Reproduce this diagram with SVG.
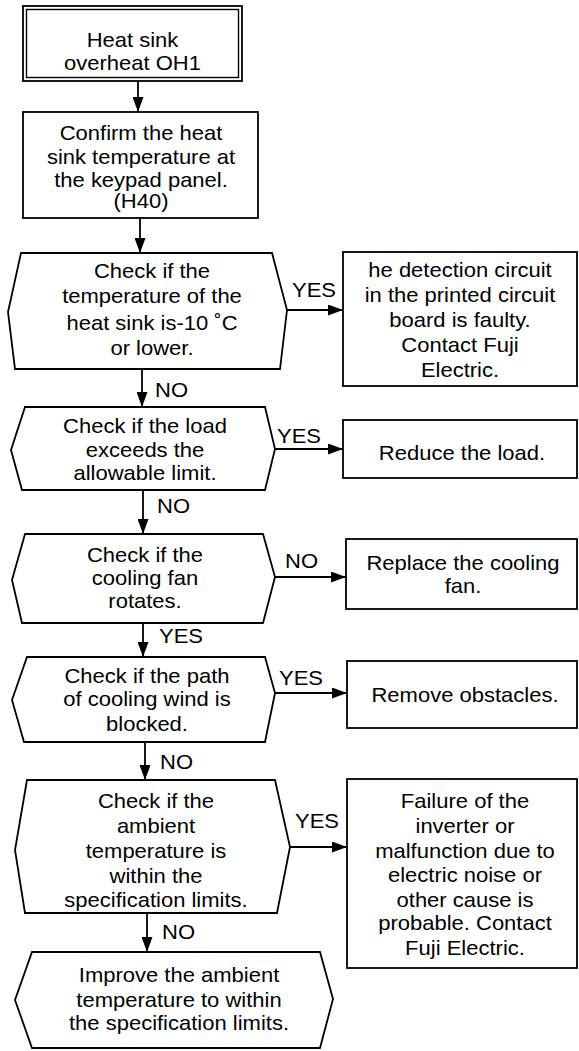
<svg xmlns="http://www.w3.org/2000/svg" width="579" height="1051" viewBox="0 0 579 1051">
<defs>
<style>
.shape{fill:#fff;stroke:#000;stroke-width:1.8;stroke-linejoin:miter}
.thin{fill:none;stroke:#000;stroke-width:1.4}
.conn{fill:none;stroke:#000;stroke-width:1.8}
text{font-family:"Liberation Sans",Arial,sans-serif;font-size:20px;fill:#000}
.c{text-anchor:middle}
</style>
<marker id="ah" markerUnits="userSpaceOnUse" markerWidth="15" markerHeight="11" refX="15" refY="5.5" orient="auto">
<path d="M0,0 L15,5.5 L0,11 z" fill="#000"/>
</marker>
</defs>
<rect width="579" height="1051" fill="#fff"/>

<g id="connectors">
<line class="conn" x1="138" y1="81" x2="138" y2="112" marker-end="url(#ah)"/>
<line class="conn" x1="140" y1="218" x2="140" y2="253" marker-end="url(#ah)"/>
<line class="conn" x1="142" y1="369" x2="142" y2="407" marker-end="url(#ah)"/>
<line class="conn" x1="143" y1="490" x2="143" y2="534" marker-end="url(#ah)"/>
<line class="conn" x1="143" y1="623" x2="143" y2="657" marker-end="url(#ah)"/>
<line class="conn" x1="145" y1="742" x2="145" y2="780" marker-end="url(#ah)"/>
<line class="conn" x1="147" y1="913" x2="147" y2="952" marker-end="url(#ah)"/>
<line class="conn" x1="287" y1="310" x2="343" y2="310" marker-end="url(#ah)"/>
<line class="conn" x1="275" y1="449" x2="343" y2="449" marker-end="url(#ah)"/>
<line class="conn" x1="275" y1="577" x2="346" y2="577" marker-end="url(#ah)"/>
<line class="conn" x1="275" y1="693" x2="347" y2="693" marker-end="url(#ah)"/>
<line class="conn" x1="290" y1="847" x2="347" y2="847" marker-end="url(#ah)"/>
<text transform="translate(155,0) scale(1.1,1)" x="0" y="397">NO</text>
<text transform="translate(157,0) scale(1.1,1)" x="0" y="513">NO</text>
<text transform="translate(159,0) scale(1.1,1)" x="0" y="643">YES</text>
<text transform="translate(160,0) scale(1.1,1)" x="0" y="769">NO</text>
<text transform="translate(162,0) scale(1.1,1)" x="0" y="939">NO</text>
<text transform="translate(292,0) scale(1.1,1)" x="0" y="297">YES</text>
<text transform="translate(277,0) scale(1.1,1)" x="0" y="443">YES</text>
<text transform="translate(285,0) scale(1.1,1)" x="0" y="568">NO</text>
<text transform="translate(279,0) scale(1.1,1)" x="0" y="685">YES</text>
<text transform="translate(295,0) scale(1.1,1)" x="0" y="828">YES</text>
</g>

<g id="start">
<rect class="shape" x="23" y="6" width="219" height="75"/>
<rect class="thin" x="26.5" y="9.5" width="212" height="68"/>
<text class="c" transform="translate(132.5,0) scale(1.1,1)"><tspan x="0" y="47">Heat sink</tspan><tspan x="0" y="70">overheat OH1</tspan></text>
</g>

<g id="confirm">
<rect class="shape" x="23" y="112" width="235" height="106"/>
<text class="c" transform="translate(141,0) scale(1.1,1)"><tspan x="0" y="140">Confirm the heat</tspan><tspan x="0" y="164">sink temperature at</tspan><tspan x="0" y="187">the keypad panel.</tspan><tspan x="0" y="208">(H40)</tspan></text>
</g>

<g id="d1">
<polygon class="shape" points="21,253 272,253 287,310 280,369 15,369 8,312"/>
<text class="c" transform="translate(152,0) scale(1.1,1)"><tspan x="0" y="278">Check if the</tspan><tspan x="0" y="303">temperature of the</tspan><tspan x="0" y="330">heat sink is-10 ˚C</tspan><tspan x="0" y="355">or lower.</tspan></text>
</g>

<g id="r1">
<rect class="shape" x="343" y="252" width="234" height="134"/>
<text class="c" transform="translate(460,0) scale(1.1,1)"><tspan x="0" y="277">he detection circuit</tspan><tspan x="0" y="302">in the printed circuit</tspan><tspan x="0" y="327">board is faulty.</tspan><tspan x="0" y="352">Contact Fuji</tspan><tspan x="0" y="377">Electric.</tspan></text>
</g>

<g id="d2">
<polygon class="shape" points="25,407 265,407 275,449 265,490 22,490 11,450"/>
<text class="c" transform="translate(145,0) scale(1.1,1)"><tspan x="0" y="433">Check if the load</tspan><tspan x="0" y="457">exceeds the</tspan><tspan x="0" y="480">allowable limit.</tspan></text>
</g>

<g id="r2">
<rect class="shape" x="343" y="420" width="234" height="58"/>
<text class="c" transform="translate(462,0) scale(1.1,1)"><tspan x="0" y="460">Reduce the load.</tspan></text>
</g>

<g id="d3">
<polygon class="shape" points="25,534 263,534 275,577 263,623 22,623 12,580"/>
<text class="c" transform="translate(145,0) scale(1.1,1)"><tspan x="0" y="562">Check if the</tspan><tspan x="0" y="585">cooling fan</tspan><tspan x="0" y="608">rotates.</tspan></text>
</g>

<g id="r3">
<rect class="shape" x="346" y="539" width="231" height="70"/>
<text class="c" transform="translate(463,0) scale(1.1,1)"><tspan x="0" y="570">Replace the cooling</tspan><tspan x="0" y="593">fan.</tspan></text>
</g>

<g id="d4">
<polygon class="shape" points="27,657 265,657 275,693 265,742 24,742 12,700"/>
<text class="c" transform="translate(147,0) scale(1.1,1)"><tspan x="0" y="683">Check if the path</tspan><tspan x="0" y="706">of cooling wind is</tspan><tspan x="0" y="731">blocked.</tspan></text>
</g>

<g id="r4">
<rect class="shape" x="347" y="661" width="230" height="67"/>
<text class="c" transform="translate(465,0) scale(1.1,1)"><tspan x="0" y="702">Remove obstacles.</tspan></text>
</g>

<g id="d5">
<polygon class="shape" points="27,780 275,780 290,847 277,913 25,913 15,850"/>
<text class="c" transform="translate(156,0) scale(1.1,1)"><tspan x="0" y="808">Check if the</tspan><tspan x="0" y="833">ambient</tspan><tspan x="0" y="858">temperature is</tspan><tspan x="0" y="883">within the</tspan><tspan x="0" y="907">specification limits.</tspan></text>
</g>

<g id="r5">
<rect class="shape" x="347" y="779" width="230" height="189"/>
<text class="c" transform="translate(465,0) scale(1.1,1)"><tspan x="0" y="808">Failure of the</tspan><tspan x="0" y="833">inverter or</tspan><tspan x="0" y="858">malfunction due to</tspan><tspan x="0" y="882">electric noise or</tspan><tspan x="0" y="907">other cause is</tspan><tspan x="0" y="930">probable. Contact</tspan><tspan x="0" y="955">Fuji Electric.</tspan></text>
</g>

<g id="final">
<polygon class="shape" points="32,952 320,952 333,999 320,1048 32,1048 15,1000"/>
<text class="c" transform="translate(179,0) scale(1.1,1)"><tspan x="0" y="982">Improve the ambient</tspan><tspan x="0" y="1007">temperature to within</tspan><tspan x="0" y="1030">the specification limits.</tspan></text>
</g>
</svg>
